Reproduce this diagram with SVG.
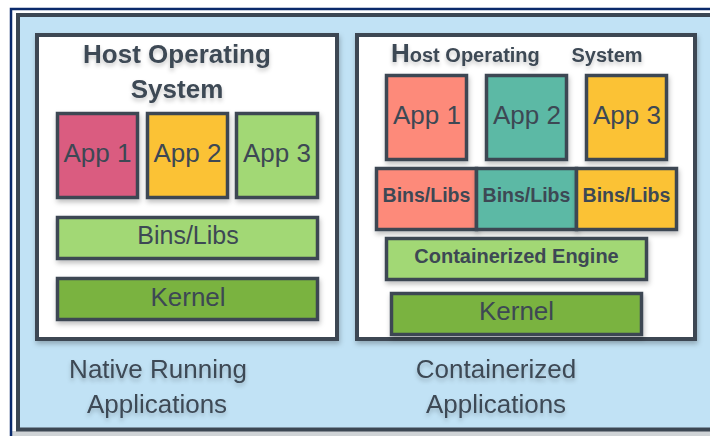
<svg xmlns="http://www.w3.org/2000/svg" width="710" height="436" viewBox="0 0 710 436">
  <defs>
    <filter id="shadow" x="-10%" y="-10%" width="130%" height="140%">
      <feDropShadow dx="1" dy="3" stdDeviation="2.5" flood-color="#000" flood-opacity="0.25"/>
    </filter>
    <filter id="tshadow" x="-10%" y="-20%" width="130%" height="160%">
      <feDropShadow dx="0" dy="3" stdDeviation="2" flood-color="#000" flood-opacity="0.22"/>
    </filter>
  </defs>
  <style>
    .frame { fill: #ffffff; stroke: #3c4753; stroke-width: 4; }
    .blk { stroke: #3c4753; stroke-width: 3.5; }
    .t { font-family: "Liberation Sans", Arial, sans-serif; fill: #3d4854; text-anchor: middle; }
    .big { font-size: 26px; }
    .bold { font-weight: bold; }
    .mid { font-size: 20px; }
  </style>

  <!-- page background -->
  <rect x="0" y="0" width="710" height="436" fill="#ffffff"/>
  <rect x="10" y="431" width="700" height="5" fill="#cfd3d6"/>
  <!-- outer navy rule -->
  <path d="M11 436 V9 H710" fill="none" stroke="#0b2a6b" stroke-width="2.5"/>
  <!-- blue panel -->
  <rect x="18" y="15" width="700" height="414.5" fill="#c1e2f5" stroke="#3c4753" stroke-width="4"/>

  <!-- Native side -->
  <g id="native-host">
    <rect class="frame" x="37" y="35" width="300" height="304" filter="url(#shadow)"/>
    <text class="t big bold" x="177" y="63" filter="url(#tshadow)">Host Operating</text>
    <text class="t big bold" x="177" y="98" filter="url(#tshadow)">System</text>
  </g>
  <g id="native-app1">
    <rect class="blk" x="57.5" y="113.5" width="80" height="84" fill="#da5b80" filter="url(#shadow)"/>
    <text class="t big" x="97.5" y="162">App 1</text>
  </g>
  <g id="native-app2">
    <rect class="blk" x="147.5" y="113.5" width="80" height="84" fill="#fbc234" filter="url(#shadow)"/>
    <text class="t big" x="187.5" y="162">App 2</text>
  </g>
  <g id="native-app3">
    <rect class="blk" x="236.5" y="113.5" width="81" height="84" fill="#a2d874" filter="url(#shadow)"/>
    <text class="t big" x="277" y="162">App 3</text>
  </g>
  <g id="native-bins">
    <rect class="blk" x="57.5" y="217.5" width="260" height="41" fill="#a2d874" filter="url(#shadow)"/>
    <text class="t" font-size="25" x="188" y="244">Bins/Libs</text>
  </g>
  <g id="native-kernel">
    <rect class="blk" x="57.5" y="278.5" width="260" height="41" fill="#7ab341" filter="url(#shadow)"/>
    <text class="t big" x="188" y="306">Kernel</text>
  </g>
  <g id="native-label">
    <text class="t big" x="158" y="378" filter="url(#tshadow)">Native Running</text>
    <text class="t big" x="157" y="413" filter="url(#tshadow)">Applications</text>
  </g>

  <!-- Containerized side -->
  <g id="container-host">
    <rect class="frame" x="357" y="35" width="338" height="304" filter="url(#shadow)"/>
    <text class="t bold" x="391" y="62" style="text-anchor:start" filter="url(#tshadow)"><tspan font-size="26">H</tspan><tspan font-size="20">ost Operating</tspan></text>
    <text class="t bold mid" x="607" y="62" filter="url(#tshadow)">System</text>
  </g>
  <g id="container-app1">
    <rect class="blk" x="386.5" y="75.5" width="80" height="84" fill="#fd8a7a" filter="url(#shadow)"/>
    <text class="t big" x="427" y="124">App 1</text>
  </g>
  <g id="container-app2">
    <rect class="blk" x="486.5" y="75.5" width="80" height="84" fill="#5bb9a5" filter="url(#shadow)"/>
    <text class="t big" x="527" y="124">App 2</text>
  </g>
  <g id="container-app3">
    <rect class="blk" x="586.5" y="75.5" width="80" height="84" fill="#fbc234" filter="url(#shadow)"/>
    <text class="t big" x="627" y="124">App 3</text>
  </g>
  <g id="container-bins1">
    <rect class="blk" x="376.5" y="168.5" width="100" height="61" fill="#fd8a7a" filter="url(#shadow)"/>
    <text class="t bold" font-size="19.5" x="426.5" y="202">Bins/Libs</text>
  </g>
  <g id="container-bins2">
    <rect class="blk" x="476.5" y="168.5" width="100" height="61" fill="#5bb9a5" filter="url(#shadow)"/>
    <text class="t bold" font-size="19.5" x="526.5" y="202">Bins/Libs</text>
  </g>
  <g id="container-bins3">
    <rect class="blk" x="576.5" y="168.5" width="100" height="61" fill="#fbc234" filter="url(#shadow)"/>
    <text class="t bold" font-size="19.5" x="626.5" y="202">Bins/Libs</text>
  </g>
  <g id="container-engine">
    <rect class="blk" x="386.5" y="238.5" width="260" height="41" fill="#a2d874" filter="url(#shadow)"/>
    <text class="t bold mid" x="516.5" y="263">Containerized Engine</text>
  </g>
  <g id="container-kernel">
    <rect class="blk" x="391.5" y="293.5" width="250" height="41" fill="#7ab341" filter="url(#shadow)"/>
    <text class="t big" x="516.5" y="320">Kernel</text>
  </g>
  <g id="container-label">
    <text class="t big" x="496" y="378" filter="url(#tshadow)">Containerized</text>
    <text class="t big" x="496" y="413" filter="url(#tshadow)">Applications</text>
  </g>

  <g id="connectors"></g>
</svg>
